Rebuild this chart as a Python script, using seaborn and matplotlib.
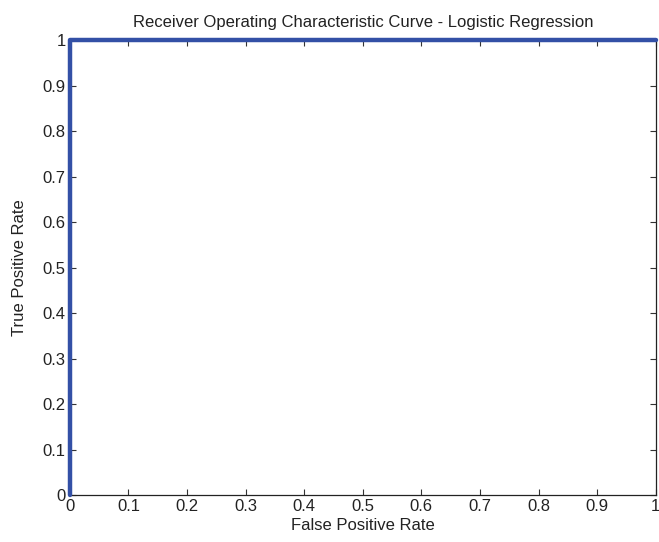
import numpy as np
import pandas as pd
import seaborn as sns
import matplotlib
matplotlib.use("Agg")
import matplotlib.pyplot as plt

fpr = [0.0, 0.0, 1.0]
tpr = [0.0, 1.0, 1.0]
ticks = [0, 0.1, 0.2, 0.3, 0.4, 0.5, 0.6, 0.7, 0.8, 0.9, 1]
tick_labels = ["0", "0.1", "0.2", "0.3", "0.4", "0.5", "0.6", "0.7", "0.8", "0.9", "1"]

sns.set_theme(style="ticks")
plt.rcParams['font.family'] = ['Liberation Sans', 'DejaVu Sans']

fig = plt.figure(figsize=(6.59, 5.42), dpi=100)
ax = fig.add_axes([0.106, 0.0867, 0.889, 0.8395])

df = pd.DataFrame({"fpr": fpr, "tpr": tpr})
sns.lineplot(data=df, x="fpr", y="tpr", sort=False, estimator=None, ax=ax,
             color="#3350A6", linewidth=3.2, clip_on=False, zorder=5)

ax.set_xlim(0, 1)
ax.set_ylim(0, 1)
ax.set_xticks(ticks)
ax.set_xticklabels(tick_labels)
ax.set_yticks(ticks)
ax.set_yticklabels(tick_labels)
ax.tick_params(direction="in", length=4, width=0.8, colors="#333333",
               labelcolor="#222222", labelsize=12, top=True, right=True, pad=3)
for s in ax.spines.values():
    s.set_visible(True)
    s.set_color("#222222")
    s.set_linewidth(0.9)

ax.set_title("Receiver Operating Characteristic Curve - Logistic Regression",
             fontsize=12, color="#222222", pad=9)
ax.set_xlabel("False Positive Rate", fontsize=12, color="#222222", labelpad=3)
ax.set_ylabel("True Positive Rate", fontsize=12, color="#222222", labelpad=11)

fig.savefig("out.png", dpi=100)
